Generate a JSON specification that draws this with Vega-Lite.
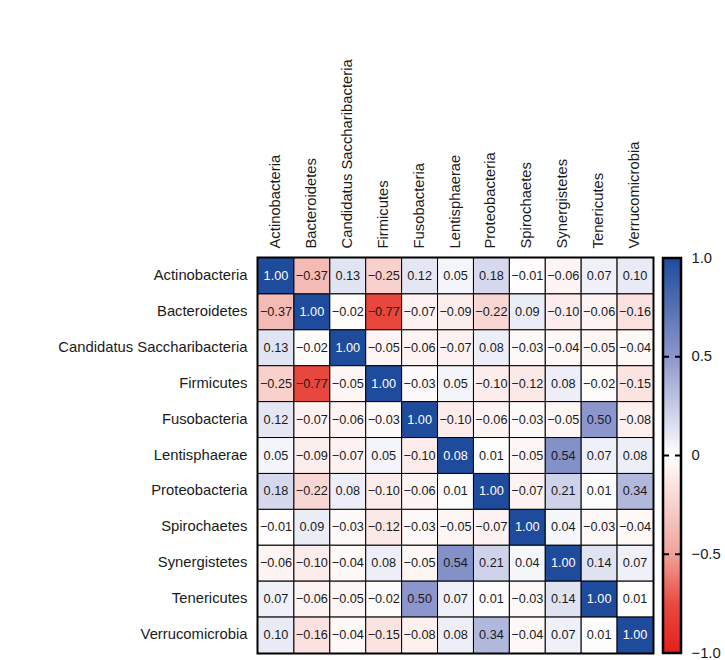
{
  "$schema": "https://vega.github.io/schema/vega-lite/v6.json",
  "padding": {"left": 56, "top": 57, "right": 5, "bottom": 5},
  "background": "white",
  "config": {
    "font": "Liberation Sans",
    "view": {"stroke": null},
    "axis": {"labelFont": "Liberation Sans", "labelColor": "#1a1a1a", "labelFontSize": 14.8}
  },
  "spacing": 6,
  "hconcat": [
    {
      "width": 395,
      "height": 395,
      "view": {"stroke": "black", "strokeWidth": 3},
      "data": {"values": [
        {"row":"Actinobacteria","col":"Actinobacteria","r":1.00},{"row":"Actinobacteria","col":"Bacteroidetes","r":-0.37},{"row":"Actinobacteria","col":"Candidatus Saccharibacteria","r":0.13},{"row":"Actinobacteria","col":"Firmicutes","r":-0.25},{"row":"Actinobacteria","col":"Fusobacteria","r":0.12},{"row":"Actinobacteria","col":"Lentisphaerae","r":0.05},{"row":"Actinobacteria","col":"Proteobacteria","r":0.18},{"row":"Actinobacteria","col":"Spirochaetes","r":-0.01},{"row":"Actinobacteria","col":"Synergistetes","r":-0.06},{"row":"Actinobacteria","col":"Tenericutes","r":0.07},{"row":"Actinobacteria","col":"Verrucomicrobia","r":0.10},
        {"row":"Bacteroidetes","col":"Actinobacteria","r":-0.37},{"row":"Bacteroidetes","col":"Bacteroidetes","r":1.00},{"row":"Bacteroidetes","col":"Candidatus Saccharibacteria","r":-0.02},{"row":"Bacteroidetes","col":"Firmicutes","r":-0.77},{"row":"Bacteroidetes","col":"Fusobacteria","r":-0.07},{"row":"Bacteroidetes","col":"Lentisphaerae","r":-0.09},{"row":"Bacteroidetes","col":"Proteobacteria","r":-0.22},{"row":"Bacteroidetes","col":"Spirochaetes","r":0.09},{"row":"Bacteroidetes","col":"Synergistetes","r":-0.10},{"row":"Bacteroidetes","col":"Tenericutes","r":-0.06},{"row":"Bacteroidetes","col":"Verrucomicrobia","r":-0.16},
        {"row":"Candidatus Saccharibacteria","col":"Actinobacteria","r":0.13},{"row":"Candidatus Saccharibacteria","col":"Bacteroidetes","r":-0.02},{"row":"Candidatus Saccharibacteria","col":"Candidatus Saccharibacteria","r":1.00},{"row":"Candidatus Saccharibacteria","col":"Firmicutes","r":-0.05},{"row":"Candidatus Saccharibacteria","col":"Fusobacteria","r":-0.06},{"row":"Candidatus Saccharibacteria","col":"Lentisphaerae","r":-0.07},{"row":"Candidatus Saccharibacteria","col":"Proteobacteria","r":0.08},{"row":"Candidatus Saccharibacteria","col":"Spirochaetes","r":-0.03},{"row":"Candidatus Saccharibacteria","col":"Synergistetes","r":-0.04},{"row":"Candidatus Saccharibacteria","col":"Tenericutes","r":-0.05},{"row":"Candidatus Saccharibacteria","col":"Verrucomicrobia","r":-0.04},
        {"row":"Firmicutes","col":"Actinobacteria","r":-0.25},{"row":"Firmicutes","col":"Bacteroidetes","r":-0.77},{"row":"Firmicutes","col":"Candidatus Saccharibacteria","r":-0.05},{"row":"Firmicutes","col":"Firmicutes","r":1.00},{"row":"Firmicutes","col":"Fusobacteria","r":-0.03},{"row":"Firmicutes","col":"Lentisphaerae","r":0.05},{"row":"Firmicutes","col":"Proteobacteria","r":-0.10},{"row":"Firmicutes","col":"Spirochaetes","r":-0.12},{"row":"Firmicutes","col":"Synergistetes","r":0.08},{"row":"Firmicutes","col":"Tenericutes","r":-0.02},{"row":"Firmicutes","col":"Verrucomicrobia","r":-0.15},
        {"row":"Fusobacteria","col":"Actinobacteria","r":0.12},{"row":"Fusobacteria","col":"Bacteroidetes","r":-0.07},{"row":"Fusobacteria","col":"Candidatus Saccharibacteria","r":-0.06},{"row":"Fusobacteria","col":"Firmicutes","r":-0.03},{"row":"Fusobacteria","col":"Fusobacteria","r":1.00},{"row":"Fusobacteria","col":"Lentisphaerae","r":-0.10},{"row":"Fusobacteria","col":"Proteobacteria","r":-0.06},{"row":"Fusobacteria","col":"Spirochaetes","r":-0.03},{"row":"Fusobacteria","col":"Synergistetes","r":-0.05},{"row":"Fusobacteria","col":"Tenericutes","r":0.50},{"row":"Fusobacteria","col":"Verrucomicrobia","r":-0.08},
        {"row":"Lentisphaerae","col":"Actinobacteria","r":0.05},{"row":"Lentisphaerae","col":"Bacteroidetes","r":-0.09},{"row":"Lentisphaerae","col":"Candidatus Saccharibacteria","r":-0.07},{"row":"Lentisphaerae","col":"Firmicutes","r":0.05},{"row":"Lentisphaerae","col":"Fusobacteria","r":-0.10},{"row":"Lentisphaerae","col":"Lentisphaerae","r":0.08},{"row":"Lentisphaerae","col":"Proteobacteria","r":0.01},{"row":"Lentisphaerae","col":"Spirochaetes","r":-0.05},{"row":"Lentisphaerae","col":"Synergistetes","r":0.54},{"row":"Lentisphaerae","col":"Tenericutes","r":0.07},{"row":"Lentisphaerae","col":"Verrucomicrobia","r":0.08},
        {"row":"Proteobacteria","col":"Actinobacteria","r":0.18},{"row":"Proteobacteria","col":"Bacteroidetes","r":-0.22},{"row":"Proteobacteria","col":"Candidatus Saccharibacteria","r":0.08},{"row":"Proteobacteria","col":"Firmicutes","r":-0.10},{"row":"Proteobacteria","col":"Fusobacteria","r":-0.06},{"row":"Proteobacteria","col":"Lentisphaerae","r":0.01},{"row":"Proteobacteria","col":"Proteobacteria","r":1.00},{"row":"Proteobacteria","col":"Spirochaetes","r":-0.07},{"row":"Proteobacteria","col":"Synergistetes","r":0.21},{"row":"Proteobacteria","col":"Tenericutes","r":0.01},{"row":"Proteobacteria","col":"Verrucomicrobia","r":0.34},
        {"row":"Spirochaetes","col":"Actinobacteria","r":-0.01},{"row":"Spirochaetes","col":"Bacteroidetes","r":0.09},{"row":"Spirochaetes","col":"Candidatus Saccharibacteria","r":-0.03},{"row":"Spirochaetes","col":"Firmicutes","r":-0.12},{"row":"Spirochaetes","col":"Fusobacteria","r":-0.03},{"row":"Spirochaetes","col":"Lentisphaerae","r":-0.05},{"row":"Spirochaetes","col":"Proteobacteria","r":-0.07},{"row":"Spirochaetes","col":"Spirochaetes","r":1.00},{"row":"Spirochaetes","col":"Synergistetes","r":0.04},{"row":"Spirochaetes","col":"Tenericutes","r":-0.03},{"row":"Spirochaetes","col":"Verrucomicrobia","r":-0.04},
        {"row":"Synergistetes","col":"Actinobacteria","r":-0.06},{"row":"Synergistetes","col":"Bacteroidetes","r":-0.10},{"row":"Synergistetes","col":"Candidatus Saccharibacteria","r":-0.04},{"row":"Synergistetes","col":"Firmicutes","r":0.08},{"row":"Synergistetes","col":"Fusobacteria","r":-0.05},{"row":"Synergistetes","col":"Lentisphaerae","r":0.54},{"row":"Synergistetes","col":"Proteobacteria","r":0.21},{"row":"Synergistetes","col":"Spirochaetes","r":0.04},{"row":"Synergistetes","col":"Synergistetes","r":1.00},{"row":"Synergistetes","col":"Tenericutes","r":0.14},{"row":"Synergistetes","col":"Verrucomicrobia","r":0.07},
        {"row":"Tenericutes","col":"Actinobacteria","r":0.07},{"row":"Tenericutes","col":"Bacteroidetes","r":-0.06},{"row":"Tenericutes","col":"Candidatus Saccharibacteria","r":-0.05},{"row":"Tenericutes","col":"Firmicutes","r":-0.02},{"row":"Tenericutes","col":"Fusobacteria","r":0.50},{"row":"Tenericutes","col":"Lentisphaerae","r":0.07},{"row":"Tenericutes","col":"Proteobacteria","r":0.01},{"row":"Tenericutes","col":"Spirochaetes","r":-0.03},{"row":"Tenericutes","col":"Synergistetes","r":0.14},{"row":"Tenericutes","col":"Tenericutes","r":1.00},{"row":"Tenericutes","col":"Verrucomicrobia","r":0.01},
        {"row":"Verrucomicrobia","col":"Actinobacteria","r":0.10},{"row":"Verrucomicrobia","col":"Bacteroidetes","r":-0.16},{"row":"Verrucomicrobia","col":"Candidatus Saccharibacteria","r":-0.04},{"row":"Verrucomicrobia","col":"Firmicutes","r":-0.15},{"row":"Verrucomicrobia","col":"Fusobacteria","r":-0.08},{"row":"Verrucomicrobia","col":"Lentisphaerae","r":0.08},{"row":"Verrucomicrobia","col":"Proteobacteria","r":0.34},{"row":"Verrucomicrobia","col":"Spirochaetes","r":-0.04},{"row":"Verrucomicrobia","col":"Synergistetes","r":0.07},{"row":"Verrucomicrobia","col":"Tenericutes","r":0.01},{"row":"Verrucomicrobia","col":"Verrucomicrobia","r":1.00}
      ]},
      "encoding": {
        "x": {"field": "col", "type": "nominal", "title": null,
          "scale": {"domain": ["Actinobacteria","Bacteroidetes","Candidatus Saccharibacteria","Firmicutes","Fusobacteria","Lentisphaerae","Proteobacteria","Spirochaetes","Synergistetes","Tenericutes","Verrucomicrobia"], "paddingInner": 0, "paddingOuter": 0},
          "axis": {"orient": "top", "labelAngle": -90, "ticks": false, "domain": false, "labelPadding": 10, "labelLimit": 300}},
        "y": {"field": "row", "type": "nominal", "title": null,
          "scale": {"domain": ["Actinobacteria","Bacteroidetes","Candidatus Saccharibacteria","Firmicutes","Fusobacteria","Lentisphaerae","Proteobacteria","Spirochaetes","Synergistetes","Tenericutes","Verrucomicrobia"], "paddingInner": 0, "paddingOuter": 0},
          "axis": {"orient": "left", "ticks": false, "domain": false, "labelPadding": 11, "labelLimit": 300}}
      },
      "layer": [
        {
          "mark": {"type": "rect", "stroke": "black", "strokeWidth": 1},
          "encoding": {
            "color": {
              "condition": {"test": "datum.row === datum.col", "value": "#1f4b9c"},
              "field": "r", "type": "quantitative", "legend": null,
              "scale": {"domain": [-1, -0.75, -0.5, 0, 0.5, 1], "range": ["#e61f1c", "#e84b40", "#f0a29b", "#ffffff", "#8d96cc", "#1f4b9c"], "interpolate": "rgb"}
            }
          }
        },
        {
          "mark": {"type": "text", "fontSize": 12.7, "font": "Liberation Sans"},
          "encoding": {
            "text": {"field": "r", "type": "quantitative", "format": ".2f"},
            "color": {"condition": {"test": "datum.row === datum.col", "value": "white"}, "value": "#1a1a1a"}
          }
        }
      ]
    },
    {
      "width": 18,
      "height": 395,
      "encoding": {
        "y": {"field": "lo", "type": "quantitative", "title": null,
          "scale": {"domain": [-1, 1], "nice": false, "zero": false},
          "axis": {"orient": "right", "values": [1, 0.5, 0, -0.5, -1], "ticks": false, "domain": false, "grid": false,
            "labelExpr": "datum.value === 0 ? '0' : format(datum.value, '.1f')",
            "labelPadding": 10, "labelColor": "#1a1a1a", "labelFontSize": 14.8}}
      },
      "layer": [
        {
          "data": {"values": [{"lo": -1, "hi": 1}]},
          "mark": {
            "type": "rect", "stroke": "black", "strokeWidth": 2.5,
            "color": {"gradient": "linear", "x1": 0, "y1": 0, "x2": 0, "y2": 1,
              "stops": [
                {"offset": 0, "color": "#1f4b9c"},
                {"offset": 0.25, "color": "#8d96cc"},
                {"offset": 0.5, "color": "#ffffff"},
                {"offset": 0.75, "color": "#f0a29b"},
                {"offset": 0.875, "color": "#e84b40"},
                {"offset": 1, "color": "#e61f1c"}
              ]}
          },
          "encoding": {"y2": {"field": "hi"}}
        },
        {
          "data": {"values": [{"lo": 0.5}, {"lo": 0}, {"lo": -0.5}]},
          "mark": {"type": "rule", "color": "black", "strokeWidth": 2, "strokeDash": [6, 6]},
          "encoding": {}
        }
      ]
    }
  ]
}
